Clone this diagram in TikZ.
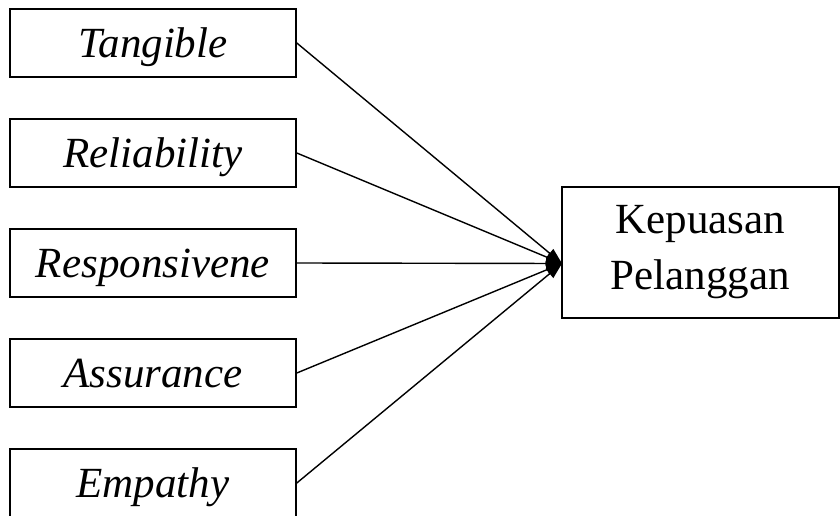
\documentclass[tikz,border=0pt]{standalone}
\usepackage{fontspec}
\setmainfont{Liberation Serif}
\usetikzlibrary{arrows.meta}
\newcommand{\jarak}{110}
\newcommand{\ukuran}{\fontsize{43}{56}\selectfont}
\tikzstyle{garis}=[line width=1.6pt]
\tikzstyle{kotak}=[draw, garis, minimum width=286pt, minimum height=68pt, inner sep=0pt, text height=29pt, text depth=0pt, font=\ukuran\itshape]
\tikzstyle{hasil}=[draw, garis, minimum width=277pt, minimum height=131pt, inner sep=0pt, align=center, font=\ukuran]
\tikzstyle{panah}=[line width=1.4pt, -{Triangle[length=16pt,width=11pt]}]
\begin{document}
\begin{tikzpicture}[x=1pt,y=-1pt]
\useasboundingbox (0,0) rectangle (840,516);

\foreach \nama/\teks [count=\i] in {tang/Tangible, rel/Reliability, resp/Responsivene, asr/Assurance, emp/Empathy}
\node[kotak] (\nama) at (153, {43+\jarak*(\i-1)}) {\teks};

\node[hasil] (kp) at (700.5, 252.5) {Kepuasan\\Pelanggan};
\coordinate (tip) at (562, 263.5);

\foreach \nama in {tang, rel, resp, asr, emp}
\draw[panah] (\nama.east) -- (tip);

\end{tikzpicture}
\end{document}
